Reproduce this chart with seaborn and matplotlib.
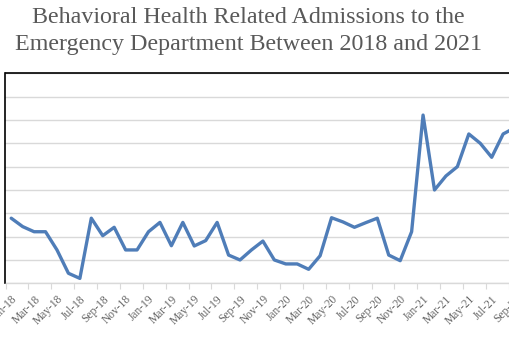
import numpy as np
import pandas as pd
import seaborn as sns
import matplotlib
matplotlib.use("Agg")
import matplotlib.pyplot as plt
from matplotlib.ticker import FixedLocator

# Monthly behavioral-health related ED admissions, Jan-2018 .. Sep-2021
months = pd.date_range("2018-01-01", "2021-09-01", freq="MS")
admissions = [27.9, 24.3, 22.1, 22.1, 14.3, 4.3, 2.1, 27.9, 20.4, 24.0, 14.3, 14.3,
              22.1, 26.1, 16.1, 26.1, 16.0, 18.3, 26.1, 12.1, 10.0, 14.3, 18.1, 10.0,
              8.3, 8.3, 6.0, 11.8, 28.1, 26.3, 24.0, 26.0, 27.9, 12.1, 9.7, 22.1,
              72.1, 40.0, 46.0, 50.0, 64.0, 60.0, 54.0, 64.0, 66.6]
month_labels = [m.strftime("%b-%y") for m in months]
title = "Behavioral Health Related Admissions to the\nEmergency Department Between 2018 and 2021"

df = pd.DataFrame({"idx": np.arange(len(months)), "admissions": admissions})

sns.set_theme(style="white")
plt.rcParams["font.family"] = ["Liberation Serif", "DejaVu Serif"]

W, H = 510, 339
fig = plt.figure(figsize=(W / 100, H / 100), dpi=100)
fig.patch.set_facecolor("white")

# plot area (extends past the right edge of the canvas)
left, right, top, bottom = 5.5, 520.3, 73.3, 283.3
ax = fig.add_axes([left / W, (H - bottom) / H, (right - left) / W, (bottom - top) / H])

sns.lineplot(data=df, x="idx", y="admissions", ax=ax, color="#4F7DB8",
             linewidth=2.4, legend=False)

ax.set_xlim(-0.5, len(months) - 0.5)
ax.set_ylim(0, 90)
ax.set_yticks(np.arange(0, 91, 10))
ax.set_yticklabels([])
ax.tick_params(axis="y", length=0)
ax.grid(axis="y", color="#d9d9d9", linewidth=1.0)
ax.grid(axis="x", visible=False)

# labels every other month, tick marks on category boundaries
ax.set_xticks(np.arange(0, len(months), 2))
ax.set_xticklabels(month_labels[::2], rotation=45, ha="right", va="top",
                   rotation_mode="anchor", fontsize=8.3, color="#666666")
ax.tick_params(axis="x", which="major", length=0, pad=7)
ax.xaxis.set_minor_locator(FixedLocator(np.arange(-0.5, len(months), 2)))
ax.tick_params(axis="x", which="minor", length=4, width=0.8, color="#d9d9d9",
               direction="out", bottom=True)

ax.set_xlabel("")
ax.set_ylabel("")
for side in ["left", "top", "right"]:
    ax.spines[side].set_color("black")
    ax.spines[side].set_linewidth(1.2)
ax.spines["bottom"].set_color("#d9d9d9")
ax.spines["bottom"].set_linewidth(1.0)

fig.text(0.487, 1 - 7 / H, title, ha="center", va="top", fontsize=17.3,
         color="#595959", linespacing=1.38)

fig.savefig("out.png", dpi=100, facecolor="white")
